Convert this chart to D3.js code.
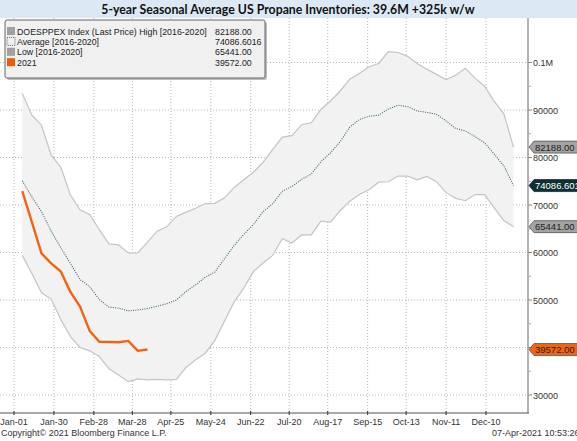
<!DOCTYPE html>
<html>
<head>
<meta charset="utf-8">
<script src="https://cdn.jsdelivr.net/npm/d3@7"></script>
<style>
body { margin: 0; background: #fff; }
svg { display: block; font-family: "Liberation Sans", Arial, sans-serif; }
</style>
</head>
<body>
<svg id="chart" width="577" height="441"></svg>
<script>
// weekly points, first week ending Jan-07
const weekStart = new Date(2021, 0, 7);

const highValues = [93500, 88900, 86800, 80500, 78000, 72100, 69000, 68000, 64800, 61800,
  61600, 59900, 59900, 62200, 64500, 65400, 67600, 68500, 69300, 70300,
  70350, 71500, 73700, 75300, 76900, 79000, 81700, 84300, 84600, 86900,
  87300, 90100, 91900, 94000, 96500, 97700, 99100, 99800, 102300, 102100,
  101300, 99800, 98600, 97500, 96400, 97300, 98800, 96700, 95000, 91800,
  89200, 82188];

const avgValues = [75100, 71700, 68600, 64500, 61000, 57700, 54300, 52800, 50100, 48500,
  48300, 47700, 47900, 48200, 48700, 49200, 50000, 51800, 53200, 54800,
  55900, 58700, 61500, 63800, 65900, 68600, 70300, 72900, 73900, 75400,
  76500, 79100, 81000, 83300, 86400, 88000, 88700, 88900, 90200, 91000,
  90700, 89800, 89500, 89100, 87700, 86100, 85600, 84400, 83100, 80700,
  78200, 74086.6016];

const lowValues = [59400, 55600, 51500, 50200, 45900, 42300, 40000, 39300, 38100, 35500,
  34200, 32800, 33400, 33200, 33300, 33200, 33300, 35800, 37400, 38800,
  41500, 45600, 49600, 52500, 56000, 57800, 59400, 62900, 62000, 63700,
  63700, 66600, 66400, 68800, 70800, 72200, 73200, 74800, 74900, 76100,
  76100, 75300, 76000, 74900, 72600, 71400, 70900, 72200, 72200, 69400,
  66700, 65441];

const values2021 = [72900, 66400, 59800, 57700, 56000, 51700, 48600, 43500, 41200, 41150,
  41100, 41400, 39300, 39572];

const tickDates = ["2021-01-01", "2021-01-30", "2021-02-28", "2021-03-28", "2021-04-25",
  "2021-05-24", "2021-06-22", "2021-07-20", "2021-08-17", "2021-09-15",
  "2021-10-13", "2021-11-11", "2021-12-10"];
const yTicks = [30000, 40000, 50000, 60000, 70000, 80000, 90000, 100000];
const yMinorTicks = [35000, 45000, 55000, 65000, 75000, 85000, 95000];

const legendNames = ["DOESPPEX Index (Last Price) High [2016-2020]", "Average  [2016-2020]", "Low  [2016-2020]", "2021"];
const legendValues = ["82188.00", "74086.6016", "65441.00", "39572.00"];
const badgeValues = [82188, 74086.6016, 65441, 39572];
const badgeLabels = ["82188.00", "74086.6016", "65441.00", "39572.00"];

const W = 577, H = 441;
const plotTop = 18, plotBottom = 413, plotRight = 528;

const svg = d3.select("#chart");
const parse = d3.timeParse("%Y-%m-%d");
const dayOf = i => d3.timeDay.offset(weekStart, i * 7);

const x = d3.scaleTime()
  .domain([parse("2021-01-01"), parse("2021-12-10")])
  .range([14, 486]);
const y = d3.scaleLinear()
  .domain([30000, 100000])
  .range([395, 62.5]);

// title bar
svg.append("rect").attr("x", 0).attr("y", 0).attr("width", W).attr("height", 18).attr("fill", "#dce9f5");
svg.append("text")
  .attr("x", 288).attr("y", 13.5)
  .attr("text-anchor", "middle")
  .style("font-family", "Lato, 'Open Sans', sans-serif")
  .style("font-weight", "bold").style("font-size", "12.3px").attr("fill", "#111")
  .text("5-year Seasonal Average US Propane Inventories: 39.6M +325k w/w");

// grid
const grid = svg.append("g").attr("stroke", "#b8b8b8").attr("stroke-dasharray", "1,2");
grid.selectAll(".vg").data(tickDates).enter().append("line")
  .attr("x1", d => x(parse(d))).attr("x2", d => x(parse(d)))
  .attr("y1", plotTop).attr("y2", plotBottom);
grid.selectAll(".hg").data(yTicks).enter().append("line")
  .attr("x1", 0).attr("x2", plotRight)
  .attr("y1", d => y(d)).attr("y2", d => y(d));

// band
const band = highValues.map((h, i) => ({ d: dayOf(i), hi: h, lo: lowValues[i] }));
svg.append("path").datum(band)
  .attr("fill", "#f2f2f2")
  .attr("d", d3.area().x(d => x(d.d)).y0(d => y(d.lo)).y1(d => y(d.hi)));

const line = d3.line().x((d, i) => x(dayOf(i))).y(d => y(d));
svg.append("path").datum(highValues).attr("fill", "none").attr("stroke", "#c4c4c4").attr("stroke-width", 1.2).attr("d", line);
svg.append("path").datum(lowValues).attr("fill", "none").attr("stroke", "#c4c4c4").attr("stroke-width", 1.2).attr("d", line);
svg.append("path").datum(avgValues).attr("fill", "none").attr("stroke", "#3f6868")
  .attr("stroke-width", 1.1).attr("stroke-dasharray", "1,1.3").attr("d", line);
svg.append("path").datum(values2021).attr("fill", "none").attr("stroke", "#f26410")
  .attr("stroke-width", 2.4).attr("stroke-linejoin", "round").attr("d", line);

// right axis
const yAxis = svg.append("g").attr("transform", `translate(${plotRight},0)`);
yAxis.append("line").attr("x1", 0).attr("x2", 0).attr("y1", plotTop).attr("y2", plotBottom)
  .attr("stroke", "#9a9a9a").attr("stroke-width", 1.5);
yAxis.selectAll(".mj").data(yTicks).enter().append("line")
  .attr("x1", 0).attr("x2", 4).attr("y1", d => y(d)).attr("y2", d => y(d)).attr("stroke", "#888");
yAxis.selectAll(".mn").data(yMinorTicks).enter().append("line")
  .attr("x1", 0).attr("x2", 3).attr("y1", d => y(d)).attr("y2", d => y(d)).attr("stroke", "#aaa");
// labels hidden behind a value badge are left out, as in the terminal
const labelTicks = yTicks.filter(t => !badgeValues.some(v => Math.abs(y(v) - y(t)) < 6));
yAxis.selectAll(".lb").data(labelTicks).enter().append("text")
  .attr("x", 5).attr("y", d => y(d) + 3.5)
  .style("font-size", "9px").attr("fill", "#333")
  .text(d => d >= 100000 ? "0.1M" : d);

// bottom axis
const xAxis = svg.append("g");
xAxis.append("line").attr("x1", 0).attr("x2", plotRight + 1).attr("y1", plotBottom).attr("y2", plotBottom)
  .attr("stroke", "#555").attr("stroke-width", 1.2);
xAxis.selectAll(".tk").data(tickDates).enter().append("line")
  .attr("x1", d => x(parse(d))).attr("x2", d => x(parse(d)))
  .attr("y1", plotBottom - 2).attr("y2", plotBottom + 2).attr("stroke", "#333");
xAxis.selectAll(".tl").data(tickDates).enter().append("text")
  .attr("x", d => x(parse(d))).attr("y", 425)
  .attr("text-anchor", "middle").style("font-size", "9px").attr("fill", "#333")
  .text(d => d3.timeFormat("%b-%d")(parse(d)));

// value badges
const badgeFill = ["#a3a3a3", "#0e2f33", "#a3a3a3", "#f26410"];
const badgeText = ["#222", "#fff", "#222", "#222"];
const badges = svg.append("g");
badgeValues.forEach((v, i) => {
  const cy = y(v);
  badges.append("path")
    .attr("d", `M${plotRight + 1},${cy} L${plotRight + 6},${cy - 6} L${W + 2},${cy - 6} L${W + 2},${cy + 6} L${plotRight + 6},${cy + 6} Z`)
    .attr("fill", badgeFill[i]).attr("stroke", i === 1 ? "#0e2f33" : "#555").attr("stroke-width", 0.8);
  badges.append("text")
    .attr("x", plotRight + 7).attr("y", cy + 3.5)
    .style("font-size", "9.5px").attr("fill", badgeText[i])
    .text(badgeLabels[i]);
});

// legend
const lg = svg.append("g");
lg.append("rect").attr("x", 7).attr("y", 22).attr("width", 260).attr("height", 58).attr("rx", 2).attr("fill", "#bdbdbd");
lg.append("rect").attr("x", 5).attr("y", 20).attr("width", 260).attr("height", 58).attr("rx", 2)
  .attr("fill", "#f0f0f0").attr("stroke", "#666");
const swFill = ["#a0a0a0", "none", "#a0a0a0", "#f05a00"];
legendNames.forEach((n, i) => {
  const ry = 31 + i * 10.4;
  lg.append("rect").attr("x", 7).attr("y", ry - 4).attr("width", 8).attr("height", 8)
    .attr("fill", swFill[i])
    .attr("stroke", i === 1 ? "#666" : "none").attr("stroke-dasharray", i === 1 ? "1,1" : null);
  lg.append("text").attr("x", 17).attr("y", ry + 3.5).style("font-size", "8.8px").attr("fill", "#222").text(n);
  lg.append("text").attr("x", 215).attr("y", ry + 3.5).style("font-size", "8.8px").attr("fill", "#222").text(legendValues[i]);
});

// footer
svg.append("text").attr("x", 1).attr("y", 436).style("font-size", "9px").attr("fill", "#333")
  .text("Copyright\u00a9 2021 Bloomberg Finance L.P.");
svg.append("text").attr("x", 492).attr("y", 436).style("font-size", "9px").attr("fill", "#333")
  .text("07-Apr-2021 10:53:26");
</script>
</body>
</html>
